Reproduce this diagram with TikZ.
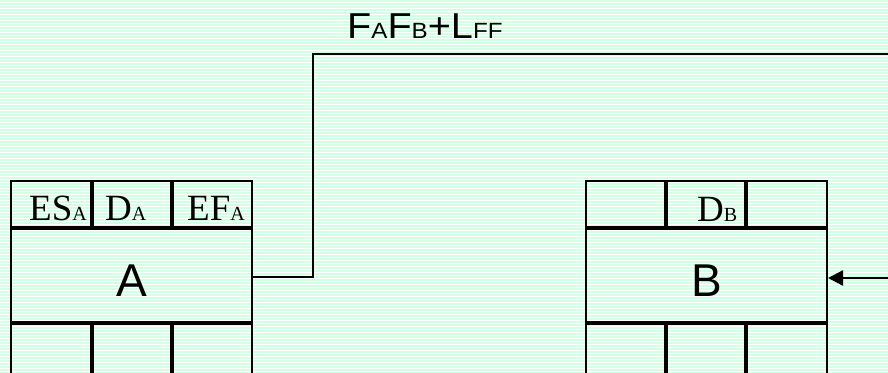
\documentclass[tikz,border=0pt]{standalone}
\usepackage{fontspec}
\usepackage{graphicx}
\usetikzlibrary{arrows.meta}
\newfontfamily\serfont{Liberation Serif}
\newfontfamily\sanfont{Liberation Sans}
\newcommand\serL{\serfont\fontsize{37}{37}\selectfont}
\newcommand\serS{\fontsize{20}{20}\selectfont}
\newcommand\sanL{\sanfont\fontsize{36}{36}\selectfont}
\newcommand\sanS{\fontsize{22}{22}\selectfont}
\newcommand\sanXL{\sanfont\fontsize{46}{46}\selectfont}
\definecolor{stripe}{RGB}{212,255,228}
\tikzset{
  outer/.style={line width=2.3pt},
  divider/.style={line width=3.6pt},
  conn/.style={line width=2.4pt},
  cell/.style={inner sep=0pt, outer sep=0pt, minimum width=241pt, minimum height=95pt},
  celltext/.style={inner sep=0pt, anchor=base west},
  bigtext/.style={inner sep=0pt, anchor=base},
}
\begin{document}
\begin{tikzpicture}[x=1pt,y=-1pt]
\useasboundingbox (0,0) rectangle (888,372);
\clip (0,0) rectangle (888,372);
\fill[white] (0,0) rectangle (888,372);
\foreach \i in {0,...,124} \fill[stripe] (0,3*\i) rectangle (888,3*\i+1.5);

% activity A
\node[cell] (A) at (131.5,275.5) {};
\node[bigtext] (Alab) at (131.5,296) {\sanXL A};
\draw[outer] (11,400) -- (11,181) -- (252,181) -- (252,400);
\draw[divider] (11,228) -- (252,228) (11,323) -- (252,323);
\draw[divider] (92,181) -- (92,228) (172,181) -- (172,228)
               (92,323) -- (92,400) (172,323) -- (172,400);
\node[celltext] (esa) at (29,220.7) {\serL ES{\serS A}};
\node[celltext] (da) at (105,220.7) {\serL D{\serS A}};
\node[celltext] (efa) at (187,220.7) {\serL EF{\serS A}};

% activity B
\node[cell] (B) at (706.5,275.5) {};
\node[bigtext] (Blab) at (707,296) {\sanXL B};
\draw[outer] (586,400) -- (586,181) -- (827,181) -- (827,400);
\draw[divider] (586,228) -- (827,228) (586,323) -- (827,323);
\draw[divider] (666,181) -- (666,228) (746,181) -- (746,228)
               (666,323) -- (666,400) (746,323) -- (746,400);
\node[celltext] (db) at (697,221) {\serL D{\serS B}};

% connector
\coordinate (topend) at (890,54);
\coordinate (arrstart) at (890,278);
\draw[conn] ([yshift=-1.5pt]A.east) -- ++(61,0) |- (topend);
\draw[conn, -{Triangle[length=15pt,width=15pt]}] (arrstart) -- ([yshift=-2.5pt,xshift=1pt]B.east);
\node[inner sep=0pt, anchor=base west] (lbl) at (347,38)
  {\scalebox{1.1}[1]{\sanL F{\sanS A}F{\sanS B}+L{\sanS FF}}};
\end{tikzpicture}
\end{document}
